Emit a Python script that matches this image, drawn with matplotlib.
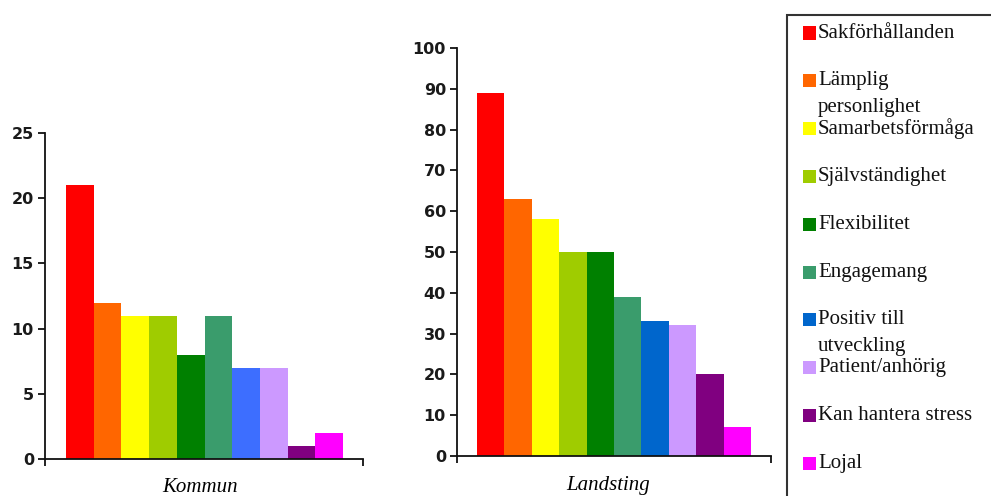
import matplotlib
matplotlib.use("Agg")
import matplotlib.pyplot as plt
from matplotlib.patches import Rectangle

# data
categories = ["Sakförhållanden", "Lämplig\npersonlighet", "Samarbetsförmåga",
              "Självständighet", "Flexibilitet", "Engagemang",
              "Positiv till\nutveckling", "Patient/anhörig",
              "Kan hantera stress", "Lojal"]
kommun = [21, 12, 11, 11, 8, 11, 7, 7, 1, 2]
landsting = [89, 63, 58, 50, 50, 39, 33, 32, 20, 7]

colors_landsting = ["#FF0000", "#FF6600", "#FFFF00", "#9FCC00", "#008000",
                    "#3A9C6C", "#0066CC", "#CC99FF", "#800080", "#FF00FF"]
colors_kommun = list(colors_landsting)
colors_kommun[6] = "#3D6EFF"

W, H = 991, 496
fig = plt.figure(figsize=(W / 100, H / 100), dpi=100)

def px_axes(x0, x1, y_top, y_zero):
    return fig.add_axes((x0 / W, (H - y_zero) / H, (x1 - x0) / W, (y_zero - y_top) / H))

def style(ax, vals, cols, ymax, step, xlim):
    x = range(len(vals))
    ax.bar(x, vals, width=1.0, color=cols, linewidth=0)
    ax.set_xlim(*xlim)
    ax.set_ylim(0, ymax)
    ax.set_yticks(range(0, ymax + 1, step))
    ax.set_xticks(list(xlim))
    ax.set_xticklabels([])
    for s in ["top", "right"]:
        ax.spines[s].set_visible(False)
    for s in ["left", "bottom"]:
        ax.spines[s].set_color("#111111")
        ax.spines[s].set_linewidth(1.3)
    ax.tick_params(axis="y", direction="out", length=5, width=1.3, color="#111111", pad=3)
    ax.tick_params(axis="x", direction="out", length=5, width=1.3, color="#111111")
    for lab in ax.get_yticklabels():
        lab.set_fontfamily("DejaVu Sans")
        lab.set_fontweight("bold")
        lab.set_fontsize(11.5)
        lab.set_color("#1a1a1a")
    ax.patch.set_alpha(0)

ax1 = px_axes(45, 363, 133, 459)
style(ax1, kommun, colors_kommun, 25, 5, (-1.26, 10.22))

ax2 = px_axes(457, 771, 48, 456)
style(ax2, landsting, colors_landsting, 100, 10, (-1.23, 10.23))

fig.text(200 / W, 1 - 478 / H, "Kommun", ha="center", va="top",
         family="Liberation Serif", style="italic", fontsize=15)
fig.text(608 / W, 1 - 476 / H, "Landsting", ha="center", va="top",
         family="Liberation Serif", style="italic", fontsize=15)

# legend box drawn by hand
fig.patches.append(Rectangle((787 / W, -0.05), 0.3, 1.05 - 15 / H,
                             transform=fig.transFigure, fill=False,
                             edgecolor="#333333", linewidth=1.5))
for i, (lab, col) in enumerate(zip(categories, colors_landsting)):
    yc = 33 + i * 47.8
    fig.patches.append(Rectangle((803 / W, 1 - (yc + 6.5) / H), 13 / W, 13 / H,
                                 transform=fig.transFigure, facecolor=col,
                                 edgecolor="none"))
    for j, line in enumerate(lab.split("\n")):
        fig.text(818 / W, 1 - (yc + j * 27) / H, line, ha="left", va="center",
                 family="Liberation Serif", fontsize=15, color="#111111")

fig.savefig("out.png", dpi=100)
